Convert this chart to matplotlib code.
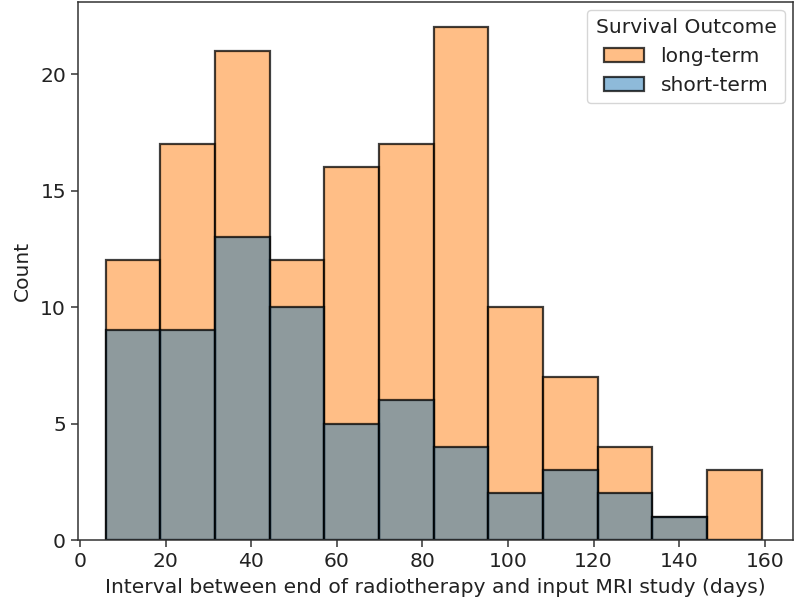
import numpy as np
import matplotlib
matplotlib.use('Agg')
import matplotlib.pyplot as plt
from matplotlib.patches import Patch
from matplotlib.colors import to_rgba

# histogram counts
bin_lo, bin_hi = 6.0, 159.3
long_term = [12, 17, 21, 12, 16, 17, 22, 10, 7, 4, 1, 3]
short_term = [9, 9, 13, 10, 5, 6, 4, 2, 3, 2, 1, 0]
groups = ['long-term', 'short-term']
colors = ['#ff7f0e', '#1f77b4']

edges = np.linspace(bin_lo, bin_hi, len(long_term) + 1)
widths = np.diff(edges)

fs = 14.6
fig = plt.figure(figsize=(7.95, 6), dpi=100)
ax = fig.add_axes([0.098, 0.1, 0.899, 0.897])

for counts, c in zip([long_term, short_term], colors):
    ax.bar(edges[:-1], counts, width=widths, align='edge', color=to_rgba(c, 0.5),
           edgecolor=(0, 0, 0, 0.75), linewidth=1.6)

ax.set_xlim(-0.5, 166.5)
ax.set_ylim(0, 23.1)
ax.set_xticks(np.arange(0, 161, 20))
ax.set_yticks([0, 5, 10, 15, 20])
ax.tick_params(labelsize=fs, length=5, width=1.1, colors='#333333', labelcolor='#222222')
for s in ax.spines.values():
    s.set_linewidth(1.1)
    s.set_color('#333333')
ax.set_xlabel('Interval between end of radiotherapy and input MRI study (days)', fontsize=fs,
              labelpad=5, color='#222222')
ax.set_ylabel('Count', fontsize=fs, labelpad=6, color='#222222')

handles = [Patch(facecolor=to_rgba(c, 0.5), edgecolor=(0, 0, 0, 0.75), linewidth=1.6) for c in colors]
leg = ax.legend(handles, groups, title='Survival Outcome', fontsize=fs, title_fontsize=fs,
                loc='upper right', borderaxespad=0.4)
for t in leg.get_texts():
    t.set_color('#222222')
leg.get_title().set_color('#222222')

fig.savefig('out.png', dpi=100)
